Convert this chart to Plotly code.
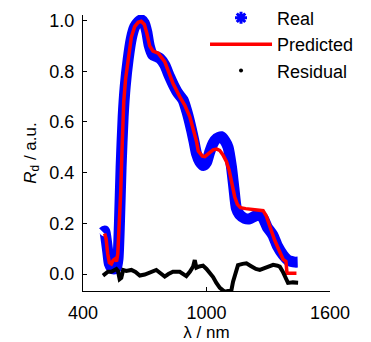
import plotly.graph_objects as go

# Real (measured) spectrum
real_nm = [497, 505, 512, 520, 528, 538, 550, 562, 570, 577, 585, 595, 605, 619, 635, 651, 668, 683,
           698, 710, 722, 738, 757, 775, 797, 820, 840, 860, 886, 905, 927, 940, 951, 967, 985, 1000,
           1015, 1032, 1050, 1072, 1090, 1105, 1121, 1133, 1145, 1160, 1185, 1210, 1235, 1258, 1275,
           1295, 1322, 1345, 1372, 1395, 1412, 1430, 1443]
real_val = [0.165, 0.17, 0.14, 0.09, 0.04, 0.025, 0.02, 0.025, 0.06, 0.2, 0.42, 0.62, 0.74, 0.845,
            0.93, 0.975, 0.995, 1.003, 0.99, 0.955, 0.9, 0.865, 0.858, 0.85, 0.825, 0.78, 0.745,
            0.715, 0.687, 0.64, 0.569, 0.52, 0.476, 0.443, 0.428, 0.44, 0.48, 0.516, 0.535, 0.542,
            0.525, 0.5, 0.424, 0.34, 0.26, 0.235, 0.22, 0.218, 0.228, 0.232, 0.22, 0.185, 0.154,
            0.11, 0.075, 0.055, 0.05, 0.047, 0.047]

# Predicted spectrum
pred_nm = [505, 512, 520, 528, 538, 547, 556, 563, 569, 576, 583, 590, 598, 607, 620, 635, 651, 668,
           683, 698, 710, 724, 740, 765, 797, 837, 870, 895, 919, 935, 951, 960, 967, 980, 992, 1010,
           1032, 1050, 1064, 1080, 1097, 1110, 1121, 1137, 1150, 1165, 1190, 1220, 1250, 1275, 1290,
           1310, 1331, 1352, 1372, 1386, 1391, 1437]
pred_val = [0.16, 0.14, 0.08, 0.045, 0.04, 0.055, 0.06, 0.05, 0.08, 0.18, 0.32, 0.5, 0.68, 0.77,
            0.85, 0.935, 0.976, 0.993, 0.997, 0.985, 0.95, 0.9, 0.88, 0.871, 0.838, 0.753, 0.7,
            0.665, 0.62, 0.575, 0.525, 0.485, 0.478, 0.465, 0.463, 0.475, 0.49, 0.493, 0.488, 0.47,
            0.443, 0.41, 0.371, 0.305, 0.275, 0.262, 0.258, 0.256, 0.254, 0.25, 0.23, 0.18, 0.134,
            0.095, 0.058, 0.05, 0.003, 0.003]

# Residual
res_nm = [497, 510, 521, 538, 550, 562, 570, 578, 586, 595, 610, 635, 655, 676, 700, 720, 740, 756,
          775, 797, 815, 837, 870, 886, 902, 920, 935, 943, 947, 951, 965, 983, 1000, 1016, 1032,
          1048, 1065, 1089, 1110, 1121, 1129, 1137, 1145, 1153, 1175, 1194, 1215, 1240, 1259, 1285,
          1310, 1324, 1345, 1356, 1370, 1380, 1396, 1420, 1445]
res_val = [-0.006, 0.0, 0.009, 0.009, 0.015, 0.02, 0.012, -0.02, -0.015, 0.016, 0.012, 0.016, 0.008,
           -0.006, -0.002, 0.006, 0.012, 0.016, 0.004, -0.01, 0.0, 0.009, 0.009, 0.0, -0.008, 0.01,
           0.03, 0.055, 0.03, 0.025, 0.03, 0.033, 0.02, 0.005, -0.012, -0.035, -0.055, -0.07,
           -0.068, -0.064, -0.03, -0.005, 0.025, 0.035, 0.04, 0.042, 0.032, 0.02, 0.016, 0.025,
           0.032, 0.036, 0.033, 0.029, 0.01, -0.01, -0.035, -0.033, -0.034]

x_ticks = [400, 1000, 1600]
y_ticks = [0.0, 0.2, 0.4, 0.6, 0.8, 1.0]

FONT = "Arial, Liberation Sans, Helvetica, sans-serif"

fig = go.Figure()
fig.add_trace(go.Scatter(x=real_nm, y=real_val, mode="lines",
                         line=dict(color="#0000ff", width=11, shape="spline", smoothing=0.6),
                         showlegend=False, hoverinfo="skip"))
fig.add_trace(go.Scatter(x=pred_nm, y=pred_val, mode="lines",
                         line=dict(color="#ff0000", width=3.5),
                         showlegend=False))
fig.add_trace(go.Scatter(x=res_nm, y=res_val, mode="lines",
                         line=dict(color="#000000", width=4),
                         showlegend=False))
# legend entries
fig.add_trace(go.Scatter(x=[None], y=[None], mode="markers", name="Real",
                         marker=dict(symbol="asterisk", size=10, color="#0000ff",
                                     line=dict(color="#0000ff", width=3))))
fig.add_trace(go.Scatter(x=[None], y=[None], mode="lines", name="Predicted",
                         line=dict(color="#ff0000", width=3.5)))
fig.add_trace(go.Scatter(x=[None], y=[None], mode="markers", name="Residual",
                         marker=dict(symbol="circle", size=4, color="#000000")))

fig.update_layout(
    width=371, height=342,
    margin=dict(l=83, r=41, t=15, b=51, autoexpand=False),
    paper_bgcolor="white", plot_bgcolor="white",
    font=dict(family=FONT, size=18, color="black"),
    legend=dict(x=0.494, y=1.056, xanchor="left", yanchor="top",
                bgcolor="rgba(0,0,0,0)", font=dict(size=18),
                itemwidth=62, traceorder="normal"),
    xaxis=dict(range=[400, 1600], tickvals=x_ticks, ticktext=[str(v) for v in x_ticks],
               showline=True, linecolor="black", linewidth=1, mirror=False, automargin=False,
               ticks="inside", ticklen=4, tickcolor="black", showgrid=False, zeroline=False,
               ticklabelstandoff=5,
               title=dict(text="λ / nm", font=dict(size=17), standoff=6)),
    yaxis=dict(range=[-0.067, 1.022], tickvals=y_ticks, ticktext=[f"{v:.1f}" for v in y_ticks],
               showline=True, linecolor="black", linewidth=1, mirror=False, automargin=False,
               ticks="inside", ticklen=4, tickcolor="black", showgrid=False, zeroline=False,
               ticklabelstandoff=4,
               title=dict(text="<i>R</i><sub>d</sub> / a.u.", font=dict(size=17), standoff=8)),
)

fig.write_html("out.html")
